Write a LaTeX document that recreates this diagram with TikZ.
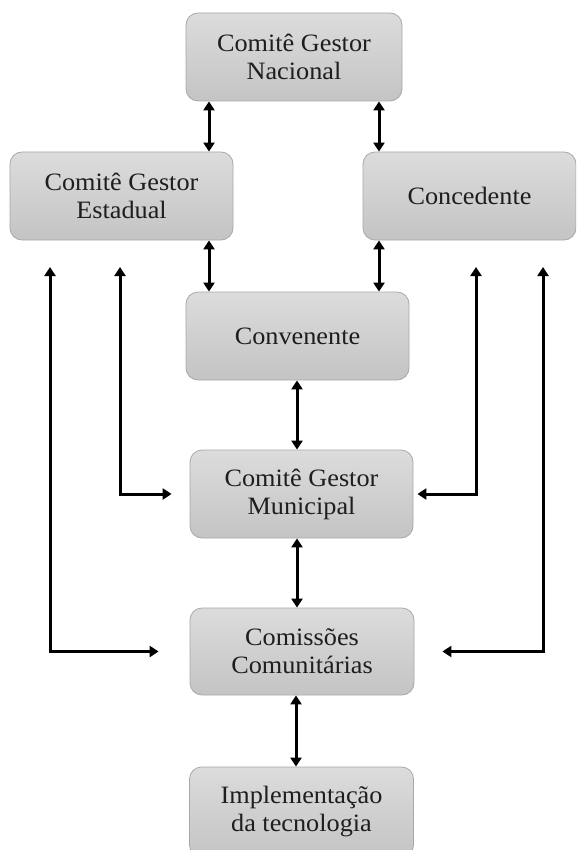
\documentclass[tikz,border=0pt]{standalone}
\usepackage{fontspec}
\setmainfont{Liberation Serif}[FakeStretch=1.05]
\usetikzlibrary{arrows.meta}
\definecolor{boxtop}{HTML}{DCDCDC}
\definecolor{boxbot}{HTML}{C4C4C4}
\definecolor{boxline}{HTML}{A8A8A8}
\definecolor{inktext}{HTML}{1E1E1E}
\begin{document}
\begin{tikzpicture}[x=1pt,y=-1pt,
  box/.style={draw=boxline, line width=0.8pt, rounded corners=12pt,
    top color=boxtop, bottom color=boxbot, inner sep=0pt, align=center,
    text=inktext, font=\fontsize{25}{28}\selectfont},
  link/.style={line width=3pt, black,
    {Triangle[length=9pt,width=11pt]}-{Triangle[length=9pt,width=11pt]}}]
\useasboundingbox (0,0) rectangle (576,850);
\clip (0,0) rectangle (576,850);

% boxes of the hierarchy
\node[box, minimum width=216pt, minimum height=88pt] (nac)  at (294,57)    {Comitê Gestor\\Nacional};
\node[box, minimum width=223pt, minimum height=88pt] (est)  at (121.5,196) {Comitê Gestor\\Estadual};
\node[box, minimum width=213pt, minimum height=88pt] (conc) at (469.5,196) {Concedente};
\node[box, minimum width=223pt, minimum height=88pt] (conv) at (297.5,336) {Convenente};
\node[box, minimum width=223pt, minimum height=88pt] (mun)  at (301.5,494) {Comitê Gestor\\Municipal};
\node[box, minimum width=224pt, minimum height=87pt] (comi) at (302,651.5) {Comissões\\Comunitárias};
\node[box, minimum width=224pt, minimum height=90pt] (impl) at (301.5,812) {Implementação\\da tecnologia};

% columns of the connectors
\coordinate (xl) at (209,0);
\coordinate (xr) at (379,0);
\coordinate (xc) at (297,0);
\coordinate (xb) at (296,0);

% free ends of the side connectors
\coordinate (lo) at (50,267);
\coordinate (li) at (120,267);
\coordinate (ri) at (476,267);
\coordinate (ro) at (543,267);

% vertical links
\draw[link] (nac.south -| xl) -- (est.north -| xl);
\draw[link] (nac.south -| xr) -- (conc.north -| xr);
\draw[link] (est.south -| xl) -- (conv.north -| xl);
\draw[link] (conc.south -| xr) -- (conv.north -| xr);
\draw[link] (conv.south -| xc) -- (mun.north -| xc);
\draw[link] (mun.south -| xc) -- (comi.north -| xc);
\draw[link] (comi.south -| xb) -- (impl.north -| xb);

% side links
\draw[link] (li) |- ([xshift=-18pt]mun.west);
\draw[link] (lo) |- ([xshift=-31pt]comi.west);
\draw[link] (ri) |- ([xshift=4pt]mun.east);
\draw[link] (ro) |- ([xshift=28pt]comi.east);
\end{tikzpicture}
\end{document}
